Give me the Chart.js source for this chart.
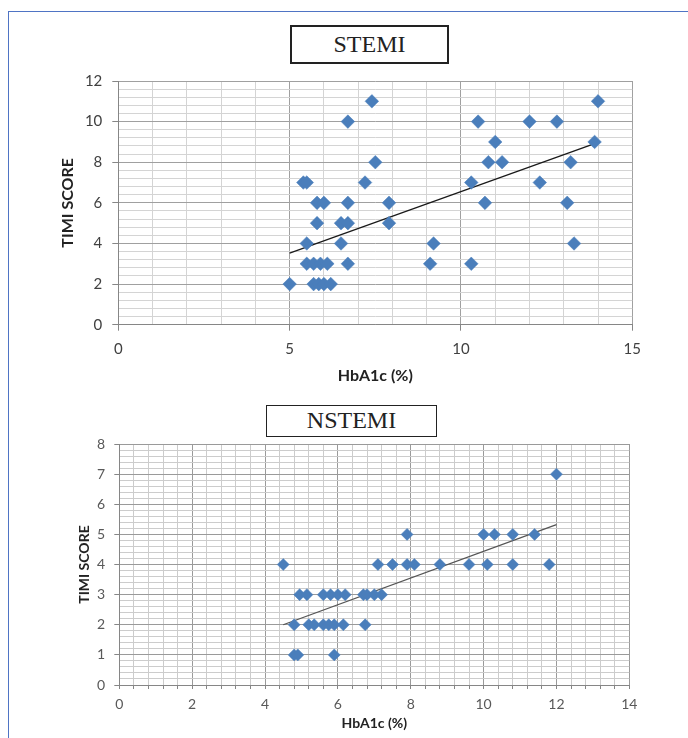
<!DOCTYPE html>
<html>
<head>
<meta charset="utf-8">
<script src="https://cdn.jsdelivr.net/npm/chart.js@4/dist/chart.umd.min.js"></script>
<style>
    body { margin: 0; background: #fff; width: 688px; height: 738px; overflow: hidden; position: relative; }
    .frame { position: absolute; left: 8px; top: 11px; width: 720px; height: 760px; border: 1.5px solid #4f74c4; }
    .box { position: absolute; box-sizing: border-box; border: 2px solid #222; font-family: "Liberation Serif", serif; color: #222; text-align: center; }
    #t1 { left: 290px; top: 25px; width: 159px; height: 39px; font-size: 24px; line-height: 35px; }
    #t2 { left: 266px; top: 405px; width: 171px; height: 32px; font-size: 24px; line-height: 29px; border-width: 1.5px; }
    canvas { position: absolute; left: 0; }
    #c1 { top: 62px; }
    #c2 { top: 395px; }
</style>
</head>
<body>
<div class="frame"></div>
<div class="box" id="t1">STEMI</div>
<div class="box" id="t2">NSTEMI</div>
<canvas id="c1" width="688" height="333"></canvas>
<canvas id="c2" width="688" height="343"></canvas>
<script>
// STEMI scatter (HbA1c %, TIMI score)
const stemiHbA1c = [5.0, 5.4, 5.5, 5.8, 6.0, 6.7, 5.8, 6.5, 6.7, 5.5, 6.5,
    5.5, 5.7, 5.9, 6.1, 6.7, 5.7, 5.85, 6.0, 6.2,
    6.7, 7.4, 7.5, 7.2, 7.9, 7.9, 9.2, 9.1, 10.3, 10.3, 10.7, 10.5, 11.0, 10.8, 11.2,
    12.0, 12.8, 12.3, 13.2, 13.1, 13.3, 14.0, 13.9];
const stemiTimi = [2, 7, 7, 6, 6, 6, 5, 5, 5, 4, 4,
    3, 3, 3, 3, 3, 2, 2, 2, 2,
    10, 11, 8, 7, 6, 5, 4, 3, 3, 7, 6, 10, 9, 8, 8,
    10, 10, 7, 8, 6, 4, 11, 9];
const stemiTrendX = [5.0, 13.9];
const stemiTrendY = [3.52, 8.92];

// NSTEMI scatter
const nstemiHbA1c = [4.5,
    4.95, 5.15, 5.6, 5.8, 6.0, 6.2, 6.7, 6.8, 7.0, 7.2,
    4.8, 5.2, 5.35, 5.6, 5.75, 5.9, 6.15, 6.75,
    4.8, 4.9, 5.9,
    7.1, 7.5, 7.9, 8.1, 8.8, 9.6, 10.1, 10.8, 11.8,
    7.9, 10.0, 10.3, 10.8, 11.4,
    12.0];
const nstemiTimi = [4,
    3, 3, 3, 3, 3, 3, 3, 3, 3, 3,
    2, 2, 2, 2, 2, 2, 2, 2,
    1, 1, 1,
    4, 4, 4, 4, 4, 4, 4, 4, 4,
    5, 5, 5, 5, 5,
    7];
const nstemiTrendX = [4.5, 12.0];
const nstemiTrendY = [2.0, 5.32];

const markerBlue = '#4a7ebb';

function pairs(xs, ys) {
    return xs.map((x, i) => ({ x: x, y: ys[i] }));
}
function isMult(v, m) {
    return Math.abs(v / m - Math.round(v / m)) < 1e-6;
}

function makeChart(id, cfg) {
    const ctx = document.getElementById(id).getContext('2d');
    return new Chart(ctx, {
        type: 'scatter',
        data: {
            datasets: [{
                data: pairs(cfg.xs, cfg.ys),
                pointStyle: 'rectRot',
                pointRadius: cfg.radius,
                pointBackgroundColor: markerBlue,
                pointBorderColor: markerBlue,
                pointBorderWidth: 0.5
            }, {
                data: pairs(cfg.tx, cfg.ty),
                showLine: true,
                pointRadius: 0,
                borderColor: cfg.trendColor,
                borderWidth: 1.3
            }]
        },
        options: {
            responsive: false,
            animation: false,
            layout: { padding: { top: cfg.padTop, right: cfg.padRight, left: 0, bottom: 0 } },
            plugins: { legend: { display: false }, tooltip: { enabled: false } },
            scales: {
                x: {
                    type: 'linear', min: 0, max: cfg.xMax,
                    afterFit: s => { s.height = cfg.xAxisH; },
                    border: { color: '#868686', width: 1 },
                    grid: {
                        color: c => isMult(c.tick.value, cfg.xMajor) ? cfg.majorGrid : cfg.minorGrid,
                        tickColor: c => (cfg.xMinorTicks || isMult(c.tick.value, cfg.xMajor)) ? '#868686' : 'rgba(0,0,0,0)',
                        tickLength: cfg.xTickLen
                    },
                    ticks: {
                        stepSize: cfg.xStep, autoSkip: false, maxRotation: 0,
                        padding: cfg.xTickPad,
                        color: cfg.tickColor,
                        font: { family: 'Lato', size: cfg.tickSize },
                        callback: v => isMult(v, cfg.xMajor) ? v : ''
                    },
                    title: {
                        display: true, text: 'HbA1c (%)', color: '#222',
                        font: { family: 'Lato', weight: 'bold', size: cfg.titleSize },
                        padding: { top: 0, bottom: cfg.xTitlePad }
                    }
                },
                y: {
                    type: 'linear', min: 0, max: cfg.yMax,
                    afterFit: s => { s.width = cfg.yAxisW; },
                    border: { color: '#868686', width: 1 },
                    grid: {
                        color: c => isMult(c.tick.value, cfg.yMajor) ? cfg.majorGrid : cfg.minorGrid,
                        tickColor: c => isMult(c.tick.value, cfg.yMajor) ? '#868686' : 'rgba(0,0,0,0)',
                        tickLength: cfg.yTickLen
                    },
                    ticks: {
                        stepSize: cfg.yStep, autoSkip: false,
                        padding: cfg.yTickPad,
                        color: cfg.tickColor,
                        font: { family: 'Lato', size: cfg.tickSize },
                        callback: v => isMult(v, cfg.yMajor) ? v : ''
                    },
                    title: {
                        display: true, text: 'TIMI SCORE', color: '#222',
                        font: { family: 'Lato', weight: 'bold', size: cfg.titleSize },
                        padding: { top: cfg.yTitlePad, bottom: 0 }
                    }
                }
            }
        }
    });
}

makeChart('c1', {
    xs: stemiHbA1c, ys: stemiTimi, tx: stemiTrendX, ty: stemiTrendY,
    radius: 6.8, trendColor: '#1a1a1a',
    padTop: 18, padRight: 55.7,
    xMax: 15, xStep: 1, xMajor: 5, xMinorTicks: false, xTickLen: 6,
    yMax: 12, yStep: 0.4, yMajor: 2, yTickLen: 6,
    xAxisH: 70.3, yAxisW: 118.3,
    majorGrid: '#a0a0a0', minorGrid: '#d4d4d4',
    tickColor: '#404040', tickSize: 15, titleSize: 16,
    xTickPad: 9, xTitlePad: 9.4, yTickPad: 10, yTitlePad: 58.4
});

makeChart('c2', {
    xs: nstemiHbA1c, ys: nstemiTimi, tx: nstemiTrendX, ty: nstemiTrendY,
    radius: 6, trendColor: '#555555',
    padTop: 49, padRight: 58.7,
    xMax: 14, xStep: 0.4, xMajor: 2, xMinorTicks: true, xTickLen: 4,
    yMax: 8, yStep: 0.2, yMajor: 1, yTickLen: 5,
    xAxisH: 53, yAxisW: 119.3,
    majorGrid: '#9a9a9a', minorGrid: '#cccccc',
    tickColor: '#595959', tickSize: 14, titleSize: 14,
    xTickPad: 7.5, xTitlePad: 6.6, yTickPad: 9.3, yTitlePad: 75.6
});
</script>
</body>
</html>
